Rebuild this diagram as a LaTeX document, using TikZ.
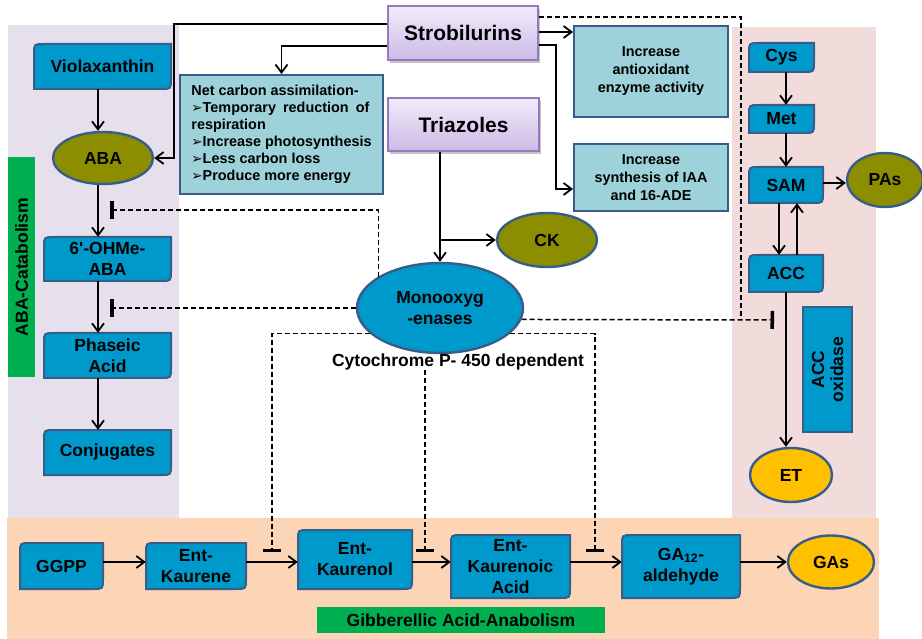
\documentclass[tikz,border=0pt]{standalone}
\usepackage{fontspec}
\setmainfont{Liberation Sans}
\newfontfamily\dvsans{DejaVu Sans}
\usetikzlibrary{arrows.meta,shapes.geometric,shadows}
\definecolor{boxblue}{RGB}{0,153,204}
\definecolor{edgeblue}{RGB}{56,93,138}
\definecolor{olivefill}{RGB}{140,142,0}
\definecolor{goldfill}{RGB}{255,192,0}
\definecolor{aquabox}{RGB}{158,210,218}
\definecolor{lavbg}{RGB}{229,224,236}
\definecolor{pinkbg}{RGB}{242,220,219}
\definecolor{peachbg}{RGB}{251,213,181}
\definecolor{lblgreen}{RGB}{0,176,80}
\definecolor{purtop}{RGB}{242,236,250}
\definecolor{purbot}{RGB}{204,185,230}
\definecolor{puredge}{RGB}{150,120,190}
\newcommand\bul{{\dvsans\fontsize{13.5}{13.5}\selectfont ➢}}
\tikzset{
  shapeblue/.style={fill=boxblue, draw=edgeblue, line width=2pt},
  boxtext/.style={rectangle, inner sep=0pt, align=center, font=\bfseries\fontsize{17.5}{21}\selectfont},
  ell/.style={ellipse, draw=edgeblue, line width=2.4pt, inner sep=0pt, align=center, font=\bfseries\fontsize{17.5}{21}\selectfont},
  purp/.style={rectangle, draw=puredge, line width=1.2pt, top color=purtop, bottom color=purbot, inner sep=0pt,
    drop shadow={shadow xshift=1.5pt, shadow yshift=-3pt, fill=black!45, opacity=0.5},
    font=\bfseries\fontsize{21}{24}\selectfont},
  aqua/.style={rectangle, fill=aquabox, draw=edgeblue, line width=2pt, inner sep=0pt, align=center,
    font=\bfseries\fontsize{14.4}{18}\selectfont},
  greenlbl/.style={rectangle, fill=lblgreen, inner sep=0pt, font=\bfseries\fontsize{17.5}{21}\selectfont},
  conn/.style={line width=1.8pt, -{Straight Barb[length=8pt,width=12pt]}},
  dashline/.style={line width=1.5pt, dash pattern=on 5pt off 3pt},
  inh/.style={dashline, -{Bar[width=18pt,line width=3.5pt]}}
}
\newcommand\rdbox[6]{%
  \path[shapeblue] ({#2},{#5}) -- ({#2},{#3+10}) .. controls ({#2},{#3}) .. ({#2+10},{#3}) -- ({#4},{#3})
     -- ({#4},{#5-10}) .. controls ({#4},{#5}) .. ({#4-10},{#5}) -- cycle;
  \node[boxtext, minimum width={(#4-#2)*1pt}, minimum height={(#5-#3)*1pt}] (#1) at ({(#2+#4)/2},{(#3+#5)/2}) {#6};
}
\begin{document}
\begin{tikzpicture}[x=1pt,y=-1pt]
\useasboundingbox (0,0) rectangle (922,639);
% backgrounds
\fill[lavbg] (8,25) rectangle (179,518);
\fill[pinkbg] (732,27) rectangle (876,518);
\fill[peachbg] (7,518) rectangle (879,639);
\node[greenlbl, rotate=90, minimum width=220pt, minimum height=27pt] (lblaba) at (21.5,267) {ABA-Catabolism};
\node[greenlbl, minimum width=288pt, minimum height=26pt] (lblga) at (461,620) {Gibberellic Acid-Anabolism};

% helper coordinates
\coordinate (v98) at (98,0);
\coordinate (v174) at (174,0);
\coordinate (v556) at (556,0);
\coordinate (v741) at (741,0);
\coordinate (v779) at (779,0);
\coordinate (v786) at (786,0);
\coordinate (v797) at (797,0);
\coordinate (h17) at (0,17);
\coordinate (h24) at (0,24);
\coordinate (h32) at (0,32);
\coordinate (h45) at (0,45);
\coordinate (h46) at (0,46);
\coordinate (h189) at (0,189);
\coordinate (h183) at (0,183);
\coordinate (h562) at (0,562);
\coordinate (b1) at (110,210);
\coordinate (b2) at (110,308);
\coordinate (b3) at (272,552);
\coordinate (b4) at (425,552);
\coordinate (b5) at (595,552);
\coordinate (b6) at (774,320);

% left column
\rdbox{viola}{34}{44}{171}{89}{Violaxanthin}
\rdbox{ohme}{44}{237}{171}{281}{\raisebox{-2pt}{\parbox{120pt}{\centering 6\textquotesingle-OHMe-\\ABA}}}
\rdbox{phaseic}{44}{333}{171}{378}{Phaseic\\Acid}
\rdbox{conj}{44}{430}{171}{475}{Conjugates}
\node[ell, fill=olivefill, minimum width=100pt, minimum height=52pt] (aba) at (103,158) {ABA};

% treatments
\node[purp, minimum width=150pt, minimum height=54pt] (strob) at (463,33) {Strobilurins};
\node[purp, minimum width=151pt, minimum height=53pt] (tria) at (463.5,124.5) {Triazoles};

\node[aqua, minimum width=203pt, minimum height=119pt, align=left,
      font=\bfseries\fontsize{14.4}{17}\selectfont] (net) at (281.5,134.5)
  {\makebox[178pt][l]{Net carbon assimilation-}\\
   \makebox[178pt][s]{\bul Temporary reduction of}\\
   respiration\\
   \bul Increase photosynthesis\\
   \bul Less carbon loss\\
   \bul Produce more energy};
\node[aqua, minimum width=154pt, minimum height=91pt] (anti) at (651,71.5) {Increase\\antioxidant\\enzyme activity};
\node[aqua, minimum width=154pt, minimum height=67pt] (iaa) at (651,177.5) {Increase\\synthesis of IAA\\and 16-ADE};

\node[ell, fill=olivefill, minimum width=100pt, minimum height=54pt] (ck) at (547,240) {CK};
\node[ell, fill=boxblue, minimum width=166pt, minimum height=90pt] (mono) at (440,308) {Monooxyg\\-enases};
\node[font=\bfseries\fontsize{17.5}{21}\selectfont, inner sep=0pt] (cyto) at (458,362) {Cytochrome P- 450 dependent};

% right column
\rdbox{cys}{749}{43}{814}{72}{Cys}
\rdbox{met}{749}{105}{814}{133}{Met}
\rdbox{sam}{749}{167}{823}{203}{SAM}
\rdbox{acc}{749}{255}{823}{292}{ACC}
\node[rectangle, fill=boxblue, draw=edgeblue, line width=2pt, rotate=90, inner sep=0pt, align=center,
      font=\bfseries\fontsize{17.5}{19}\selectfont, minimum width=125pt, minimum height=49pt] (accox) at (827.5,369.5) {ACC\\oxidase};
\node[ell, fill=olivefill, minimum width=76pt, minimum height=54pt] (pas) at (885,180) {PAs};
\node[ell, fill=goldfill, minimum width=82pt, minimum height=54pt] (et) at (791,475) {ET};

% bottom row
\rdbox{ggpp}{20}{543}{103}{589}{GGPP}
\rdbox{entk}{146}{543}{246}{589}{Ent-\\Kaurene}
\rdbox{entkol}{298}{530}{412}{589}{Ent-\\Kaurenol}
\rdbox{entka}{451}{535}{570}{598}{\fontsize{17.5}{20.5}\selectfont Ent-\\Kaurenoic\\Acid}
\rdbox{ga}{622}{535}{740}{598}{GA\textsubscript{12}-\\aldehyde}
\node[ell, fill=goldfill, minimum width=86pt, minimum height=53pt] (gas) at (831,562) {GAs};

% left column arrows
\draw[conn] (viola.south -| v98) -- (aba.north -| v98);
\draw[conn] (aba.south -| v98) -- (ohme.north -| v98);
\draw[conn] (ohme.south -| v98) -- (phaseic.north -| v98);
\draw[conn] (phaseic.south -| v98) -- (conj.north -| v98);

% strobilurins
\draw[conn] (strob.west |- h24) -| (aba.east -| v174) -- (aba.east);
\draw[conn] (strob.west |- h46) -| (net.north);
\draw[conn] (strob.east |- h32) -- (anti.west |- h32);
\draw[conn] (strob.east |- h45) -| (v556 |- h189) -- (iaa.west |- h189);
\draw[dashline] (strob.east |- h17) -| (b6 -| v741);

% triazoles
\draw[conn] (tria.south -| mono.north) -- (mono.north);
\draw[conn] (mono.north |- ck.west) -- (ck.west);

% monooxygenase inhibitions
\draw[inh] (mono.153) |- (b1);
\draw[inh] (mono.west) -- (b2);
\draw[inh] (mono.200) -| (b3);
\draw[inh] (cyto.south -| b4) -- (b4);
\draw[inh] (mono.340) -| (b5);
\draw[inh] (mono.-8.5) -- (b6);

% right column arrows
\draw[conn] (cys.south -| v786) -- (met.north -| v786);
\draw[conn] (met.south -| v786) -- (sam.north -| v786);
\draw[conn] (sam.south -| v779) -- (acc.north -| v779);
\draw[conn] (acc.north -| v797) -- (sam.south -| v797);
\draw[conn] (sam.east |- h183) -- (pas.west |- h183);
\draw[conn] (acc.south -| v786) -- (et.north -| v786);

% bottom arrows
\draw[conn] (ggpp.east |- h562) -- (entk.west |- h562);
\draw[conn] (entk.east |- h562) -- (entkol.west |- h562);
\draw[conn] (entkol.east |- h562) -- (entka.west |- h562);
\draw[conn] (entka.east |- h562) -- (ga.west |- h562);
\draw[conn] (ga.east |- h562) -- (gas.west);
\end{tikzpicture}
\end{document}
